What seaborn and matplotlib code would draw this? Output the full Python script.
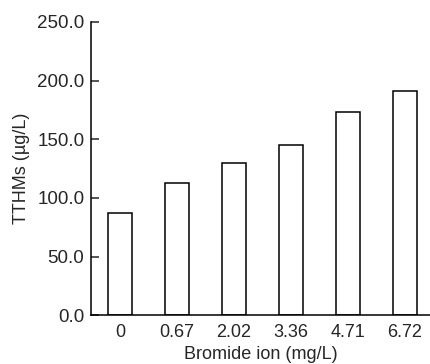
import pandas as pd
import matplotlib
matplotlib.use("Agg")
import matplotlib.pyplot as plt
import seaborn as sns

bromide = ["0", "0.67", "2.02", "3.36", "4.71", "6.72"]
tthms = [87.0, 112.5, 129.5, 145.0, 173.5, 191.0]

data = pd.DataFrame({"bromide": bromide, "tthms": tthms})

sns.set_style("ticks")
plt.rcParams["font.family"] = ["Liberation Sans", "DejaVu Sans"]

fig = plt.figure(figsize=(4.31, 3.64), dpi=100)
ax = fig.add_axes([0.212, 0.134, 0.788, 0.806])

sns.barplot(data=data, x="bromide", y="tthms", order=bromide, color="white",
            edgecolor="black", linewidth=1.1, width=0.43, ax=ax)

ax.set_xlim(-0.5, 5.46)
ax.set_ylim(0, 250)
ax.set_yticks([0, 50, 100, 150, 200, 250])
ax.set_yticklabels([f"{v:.1f}" for v in [0, 50, 100, 150, 200, 250]])
ax.tick_params(axis="y", direction="in", length=5.5, width=1.1, labelsize=13.5, pad=5)
ax.tick_params(axis="x", length=0, labelsize=13, pad=6)
ax.set_xlabel("Bromide ion (mg/L)", fontsize=13, labelpad=4)
ax.set_ylabel("TTHMs (\u00b5g/L)", fontsize=13, labelpad=5)

sns.despine(ax=ax)
for s in ["left", "bottom"]:
    ax.spines[s].set_linewidth(1.1)
    ax.spines[s].set_color("black")

fig.savefig("out.png", dpi=100)
